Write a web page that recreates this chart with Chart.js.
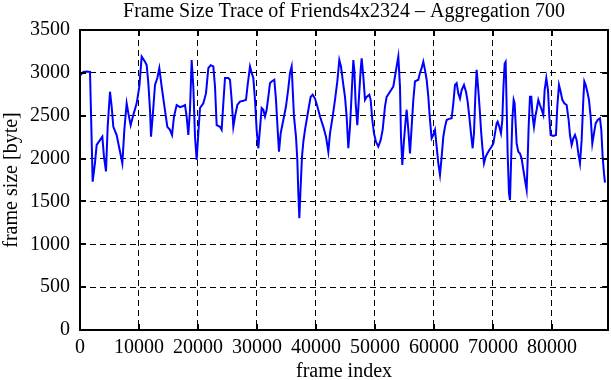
<!DOCTYPE html>
<html>
<head>
<meta charset="utf-8">
<script src="https://cdn.jsdelivr.net/npm/chart.js@4"></script>
<style>
  html, body { margin: 0; padding: 0; background: #fff; }
  #wrap { width: 611px; height: 380px; }
</style>
</head>
<body>
<div id="wrap"><canvas id="traceChart"></canvas></div>
<script>
// Daten
const titleText = 'Frame Size Trace of Friends4x2324 \u2013 Aggregation 700';
const xTickValues = [0, 10000, 20000, 30000, 40000, 50000, 60000, 70000, 80000];
const yTickValues = [0, 500, 1000, 1500, 2000, 2500, 3000, 3500];

const frameIndex = [
    0, 565, 1130, 1695, 2147, 2540, 2825, 3390, 3785, 4068, 4407, 4690, 5085, 5368, 5650, 6215,
    6667, 7175, 7515, 7910, 8193, 8588, 9040, 9605, 10057, 10453, 11018, 11300, 11583, 11865, 12035, 12317,
    12713, 13108, 13447, 13843, 14238, 14803, 15255, 15594, 15933, 16385, 16950, 17402, 17798, 18080, 18363, 18645,
    18928, 19210, 19493, 19775, 20058, 20340, 20905, 21357, 21753, 22148, 22600, 22883, 23165, 23730,
    24013, 24295, 24578, 25143, 25425, 25708, 25990, 26273, 26668, 27120, 27685, 28137, 28420, 28815, 29098, 29380,
    29663, 29945, 30228, 30510, 30793, 31075, 31358, 31640, 31923, 32205, 32488, 32940, 33222, 33505, 33731, 34013,
    34465, 34917, 35313, 35595, 35878, 36047, 36273, 36612, 36838, 37008, 37177, 37403, 37629, 37855, 38138, 38420,
    38815, 39098, 39437, 39833, 40228, 40680, 41245, 41697, 42093, 42375, 42827, 43223, 43618, 43957, 44240, 44635,
    44918, 45200, 45483,
    45765, 46048, 46330, 46500, 46726, 47008, 47291, 47573, 47743, 48025, 48308, 48590, 49042, 49268, 49551, 49833,
    50172, 50568, 50963, 51302, 51698, 51980, 52545, 53110, 53393, 53675, 53958, 54240, 54410, 54636, 54918, 55201,
    55370, 55653, 55935, 56218, 56500, 56783, 57348, 57630, 57913, 58195, 58478, 58760, 59043, 59325, 59608, 59890,
    60173, 60455, 60738, 61020, 61303, 61585, 61868, 62150, 62433, 62998, 63280, 63563, 63845, 64128, 64410, 64693,
    65088, 65427, 65710, 65992, 66275, 66557, 66783, 67009, 67235,
    67518, 67800, 67970, 68196, 68478, 68761, 69043, 69382, 69778, 70060, 70343, 70625, 70795, 71077, 71360, 71585,
    71755, 71981, 72150, 72320, 72490, 72716, 72885, 73111, 73281, 73507, 73676, 73845, 74015, 74298, 74580, 74863,
    75145, 75428, 75710, 75880, 76049, 76275, 76501, 76727, 76953, 77179, 77405, 77688, 77970, 78253, 78535, 78761,
    79044, 79326, 79552, 79778, 80230, 80682, 80908, 81191, 81473, 81756, 82095, 82490, 82829, 83055, 83338, 83620,
    83903, 84185, 84468, 84750, 85033, 85315, 85485, 85711, 85993, 86276, 86558, 86841, 87123, 87406, 87745, 88140,
    88366, 88592, 88818, 88988
];

const frameSize = [
    2970, 3010, 3015, 3010, 1730, 1950, 2160, 2215, 2255, 2020, 1850, 2370, 2780, 2605, 2370, 2275,
    2120, 1945, 2335, 2645, 2530, 2390, 2510, 2645, 2840, 3190, 3130, 3090, 2880, 2570, 2255, 2490,
    2860, 2940, 3055, 2840, 2645, 2370, 2335, 2275, 2490, 2625, 2600, 2610, 2625, 2490, 2275, 2570,
    3150, 2840, 2255, 1985, 2295, 2590, 2645, 2760, 3055, 3090, 3075, 2840, 2390, 2370,
    2335, 2645, 2940, 2940, 2920, 2685, 2370, 2490, 2625, 2665, 2675, 2685, 2860, 3075, 3000, 2940,
    2685, 2335, 2120, 2350, 2590, 2570, 2490, 2570, 2720, 2880, 2900, 2920, 2685, 2335, 2080, 2295,
    2450, 2610, 2820, 3000, 3075, 2820, 2490, 2255, 1985, 1595, 1305, 1675, 2020, 2195, 2335, 2450,
    2610, 2720, 2745, 2700, 2610, 2490, 2370, 2255, 2080, 2295, 2490, 2685, 2900, 3150, 3075, 2860,
    2720, 2490, 2120,
    2370, 2760, 3150, 3035, 2645, 2390, 2720, 3035, 3170, 2960, 2685, 2720, 2745, 2685, 2450, 2295,
    2195, 2140, 2215, 2335, 2610, 2720, 2780, 2840, 2960, 3075, 3190, 2840, 2255, 1925, 2215, 2450,
    2570, 2335, 2060, 2370, 2685, 2900, 2920, 3000, 3055, 3130, 3035, 2920, 2720, 2450, 2235, 2275,
    2335, 2140, 1945, 1810, 2020, 2255, 2370, 2450, 2460, 2470, 2645, 2860, 2880, 2760, 2700, 2800,
    2860, 2780, 2665, 2490, 2295, 2120, 2295, 2720, 3035,
    2800, 2530, 2335, 2140, 1945, 2020, 2060, 2100, 2140, 2175, 2295, 2410, 2430, 2370, 2295, 2450,
    2800, 3110, 3130, 2610, 2060, 1595, 1515, 2060, 2450, 2685, 2645, 2410, 2175, 2080, 2060, 2000,
    1870, 1750, 1635, 1985, 2370, 2720, 2720, 2490, 2370, 2490, 2570, 2685, 2625, 2570, 2510, 2800,
    2940, 2800, 2490, 2275, 2265, 2275, 2610, 2860, 2780, 2685, 2645, 2625, 2450, 2275, 2160, 2235,
    2275, 2215, 2060, 1945, 2215, 2685, 2900, 2860, 2780, 2685, 2490, 2175, 2295, 2410, 2450, 2470,
    2335, 2020, 1830, 1720
];

const serif = '"Liberation Serif", "DejaVu Serif", serif';
Chart.defaults.font.family = serif;
Chart.defaults.font.size = 20;
Chart.defaults.color = '#000';

// Rahmen, gespiegelte Ticks und Titel wie bei gnuplot
const gnuplotFrame = {
    id: 'gnuplotFrame',
    afterDraw(chart) {
        const { ctx, chartArea: a, scales } = chart;
        const tl = 6;
        ctx.save();
        ctx.strokeStyle = '#000';
        ctx.lineWidth = 2;
        ctx.beginPath();
        xTickValues.forEach(v => {
            const px = Math.round(scales.x.getPixelForValue(v));
            ctx.moveTo(px, a.bottom); ctx.lineTo(px, a.bottom - tl);
            ctx.moveTo(px, a.top); ctx.lineTo(px, a.top + tl);
        });
        yTickValues.forEach(v => {
            const py = Math.round(scales.y.getPixelForValue(v));
            ctx.moveTo(a.left, py); ctx.lineTo(a.left + tl, py);
            ctx.moveTo(a.right, py); ctx.lineTo(a.right - tl, py);
        });
        ctx.stroke();
        ctx.strokeRect(a.left, a.top, a.right - a.left, a.bottom - a.top);

        ctx.fillStyle = '#000';
        ctx.font = '20px ' + serif;
        ctx.textAlign = 'center';
        ctx.textBaseline = 'middle';
        ctx.fillText(titleText, (a.left + a.right) / 2, 12);
        ctx.restore();
    }
};

const points = frameIndex.map((f, i) => ({ x: f, y: frameSize[i] }));

new Chart(document.getElementById('traceChart'), {
    type: 'line',
    data: {
        datasets: [{
            data: points,
            borderColor: '#0000ff',
            borderWidth: 2,
            pointRadius: 0,
            tension: 0,
            fill: false
        }]
    },
    options: {
        responsive: true,
        maintainAspectRatio: false,
        animation: false,
        layout: { padding: { top: 30, right: 3, left: 0, bottom: 0 } },
        plugins: { legend: { display: false }, tooltip: { enabled: false } },
        scales: {
            x: {
                type: 'linear',
                min: 0,
                max: 89500,
                afterFit: s => { s.height = 50; },
                afterBuildTicks: s => { s.ticks = xTickValues.map(v => ({ value: v })); },
                ticks: { padding: 6, maxRotation: 0, autoSkip: false, callback: v => String(v) },
                grid: { color: '#000', lineWidth: 1, drawTicks: false },
                border: { display: false, dash: [6, 4] },
                title: { display: true, text: 'frame index', padding: { top: 0, bottom: -4 } }
            },
            y: {
                min: 0,
                max: 3500,
                afterFit: s => { s.width = 80; },
                afterBuildTicks: s => { s.ticks = yTickValues.map(v => ({ value: v })); },
                ticks: { padding: 10, callback: v => String(v) },
                grid: { color: '#000', lineWidth: 1, drawTicks: false },
                border: { display: false, dash: [6, 4] },
                title: { display: true, text: 'frame size [byte]', padding: { top: 0, bottom: 0 } }
            }
        }
    },
    plugins: [gnuplotFrame]
});
</script>
</body>
</html>
